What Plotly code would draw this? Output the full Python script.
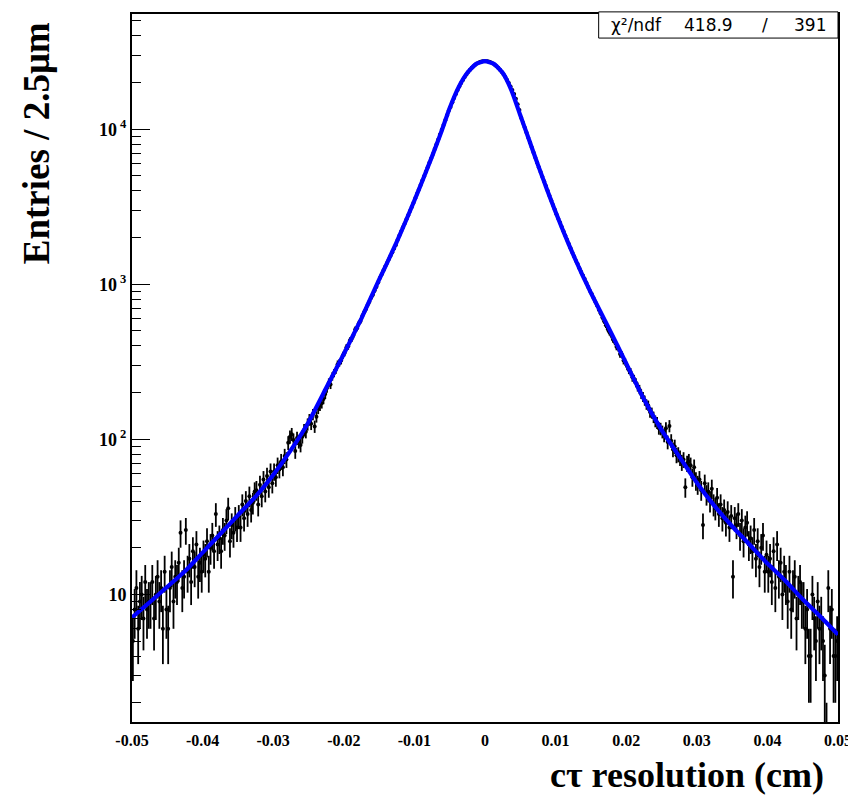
import numpy as np
import plotly.graph_objects as go

# histogram: 400 bins of 2.5 um between -0.05 and 0.05 cm
bin_lo = -0.05
bin_width = 0.00025

counts = [
    5, 8, 11, 6, 9, 10, 7, 12, 8, 9,
    9, 12, 7, 10, 13, 9, 11, 6, 14, 8,
    6, 11, 15, 9, 13, 12, 16, 25, 11, 13,
    26, 14, 17, 12, 19, 15, 21, 13, 16, 14,
    18, 17, 22, 14, 20, 24, 19, 33, 21, 23,
    19, 26, 24, 30, 36, 22, 28, 25, 31, 27,
    32, 27, 38, 31, 40, 33, 43, 35, 39, 46,
    47, 38, 51, 43, 55, 46, 58, 49, 62, 52,
    62, 57, 68, 64, 72, 66, 78, 74, 95, 104,
    108, 99, 84, 102, 97, 92, 104, 115, 112, 125,
    134, 126, 145, 121, 140, 158, 165, 171, 182, 196,
    214, 232, 226, 255, 268, 281, 305, 312, 322, 348,
    362, 392, 398, 435, 445, 470, 512, 520, 560, 580,
    625, 660, 690, 735, 770, 820, 855, 910, 965, 1030,
    1100, 1160, 1230, 1300, 1370, 1450, 1530, 1610, 1700, 1790,
    1938, 2060, 2190, 2330, 2470, 2630, 2790, 2970, 3150, 3350,
    3590, 3830, 4090, 4370, 4670, 4980, 5320, 5680, 6070, 6480,
    6920, 7440, 7990, 8590, 9230, 9910, 10650, 11440, 12300, 13210,
    13930, 14910, 15900, 16890, 17900, 18890, 19850, 20800, 21700, 22570,
    23420, 24170, 24870, 25500, 26050, 26520, 26900, 27190, 27390, 27480,
    27480, 27390, 27190, 26900, 26520, 26050, 25500, 24870, 24170, 23420,
    22570, 21700, 20800, 19850, 18890, 17900, 16890, 15700, 14500, 13300,
    11860, 11020, 10240, 9510, 8830, 8200, 7620, 7080, 6580, 6110,
    5690, 5300, 4940, 4610, 4300, 4010, 3740, 3480, 3250, 3030,
    2830, 2660, 2500, 2340, 2200, 2060, 1940, 1820, 1710, 1600,
    1510, 1420, 1350, 1270, 1200, 1140, 1080, 1020, 960, 906,
    865, 815, 770, 730, 685, 650, 610, 578, 545, 515,
    490, 470, 440, 425, 395, 388, 355, 352, 322, 315,
    296, 280, 272, 251, 245, 232, 218, 210, 196, 188,
    178, 168, 165, 150, 148, 139, 131, 128, 118, 117,
    112, 106, 118, 96, 122, 98, 86, 90, 79, 80,
    76, 71, 74, 49, 70, 72, 68, 57, 66, 54,
    51, 55, 47, 28, 52, 44, 46, 40, 48, 38,
    36, 42, 33, 38, 31, 35, 29, 34, 27, 32,
    13, 31, 28, 33, 24, 30, 22, 27, 29, 21,
    23, 19, 26, 17, 22, 15, 20, 24, 14, 18,
    14, 17, 12, 19, 11, 21, 13, 16, 10, 14,
    12, 9, 14, 8, 11, 13, 7, 10, 12, 9,
    9, 6, 8, 4, 4, 10, 7, 5, 9, 6,
    7, 5, 3, 1, 11, 6, 8, 4, 4, 5,
]

# fit function, sampled along x (denser around the core)
fit_x = [-0.05, -0.0475, -0.045, -0.0425, -0.04, -0.0375, -0.035, -0.0325, -0.03, -0.0275,
         -0.025, -0.0225, -0.02, -0.0175, -0.015, -0.01375, -0.0125, -0.01125, -0.01, -0.00875,
         -0.0075, -0.00625, -0.005, -0.00375, -0.0025, -0.00125, 0.0, 0.00125, 0.0025, 0.00375,
         0.005, 0.00625, 0.0075, 0.00875, 0.01, 0.01125, 0.0125, 0.01375, 0.015, 0.0175,
         0.02, 0.0225, 0.025, 0.0275, 0.03, 0.0325, 0.035, 0.0375, 0.04, 0.0425,
         0.045, 0.0475, 0.05]
fit_y = [7.1, 8.9, 11.2, 14.1, 18.6, 24.5, 32.4, 42.7, 58.9, 85.1,
         129, 214, 355, 603, 1070, 1410, 1880, 2540, 3470, 4790,
         6680, 9440, 13700, 18600, 23100, 26400, 27500, 26400, 23100, 17800,
         12300, 8510, 5890, 4120, 2920, 2110, 1550, 1160, 881, 525,
         309, 182, 115, 77.6, 52.5, 37.2, 27.5, 20.9, 15.8, 12.3,
         9.3, 7.2, 5.5]

chi2_text = "418.9"
ndf_text = "391"

x_ticks = [-0.05, -0.04, -0.03, -0.02, -0.01, 0, 0.01, 0.02, 0.03, 0.04, 0.05]
x_ticktext = ["-0.05", "-0.04", "-0.03", "-0.02", "-0.01", "0",
              "0.01", "0.02", "0.03", "0.04", "0.05"]
y_ticks = [10, 100, 1000, 10000]
y_ticktext = ["10", "10<sup> 2</sup>", "10<sup> 3</sup>", "10<sup> 4</sup>"]

centers = bin_lo + bin_width * (np.arange(len(counts)) + 0.5)
counts = np.array(counts, dtype=float)

fig = go.Figure()
fig.add_trace(go.Scatter(
    x=centers, y=counts, mode="markers",
    marker=dict(color="black", size=4),
    error_y=dict(type="data", array=np.sqrt(counts), color="black",
                 thickness=1.8, width=0),
    showlegend=False,
))
fig.add_trace(go.Scatter(
    x=fit_x, y=fit_y, mode="lines",
    line=dict(color="#0000ff", width=4.2, shape="spline", smoothing=0.5),
    showlegend=False,
))

serif = "Liberation Serif"
fig.update_xaxes(
    range=[-0.05, 0.05], showline=True, mirror=True, linecolor="black", linewidth=2,
    showgrid=False, zeroline=False, ticks="",
    tickvals=x_ticks, ticktext=["<b>%s</b>" % t for t in x_ticktext],
    tickfont=dict(family=serif, size=16, color="black"), ticklabelstandoff=3,
    ticklabeloverflow="allow",
)
fig.update_yaxes(
    type="log", range=[0.177, 4.743], showline=True, mirror=True, linecolor="black",
    linewidth=2, showgrid=False, zeroline=False,
    ticks="inside", ticklen=18, tickwidth=1, tickcolor="black",
    tickvals=y_ticks, ticktext=["<b>%s</b>" % t for t in y_ticktext],
    tickfont=dict(family=serif, size=18, color="black"), ticklabelstandoff=0,
    minor=dict(ticks="inside", ticklen=9, tickwidth=1, tickcolor="black",
               tickvals=[m * d for d in [1, 10, 100, 1000, 10000] for m in range(2, 10)]),
)

fig.add_annotation(
    text="<b>Entries / 2.5\u03bcm</b>", xref="paper", yref="paper",
    x=-0.135, y=0.817, xanchor="center", yanchor="middle", textangle=-90,
    showarrow=False, font=dict(family=serif, size=37, color="black"),
)
fig.add_annotation(
    text="<b>c\u03c4 resolution (cm)</b>", xref="paper", yref="paper",
    x=0.983, y=-0.075, xanchor="right", yanchor="middle", showarrow=False,
    font=dict(family=serif, size=36, color="black"),
)

# fit statistics box
fig.add_shape(type="rect", xref="paper", yref="paper", x0=0.661, x1=1.0, y0=0.966, y1=1.003,
              line=dict(color="black", width=1), fillcolor="white")
sans = dict(family="DejaVu Sans", size=17, color="black")
fig.add_annotation(text="\u03c7\u00b2/ndf", xref="paper", yref="paper", x=0.676, y=0.985,
                   xanchor="left", yanchor="middle", showarrow=False, font=sans)
fig.add_annotation(text=chi2_text, xref="paper", yref="paper", x=0.817, y=0.985,
                   xanchor="center", yanchor="middle", showarrow=False, font=sans)
fig.add_annotation(text="/", xref="paper", yref="paper", x=0.896, y=0.985,
                   xanchor="center", yanchor="middle", showarrow=False, font=sans)
fig.add_annotation(text=ndf_text, xref="paper", yref="paper", x=0.986, y=0.985,
                   xanchor="right", yanchor="middle", showarrow=False, font=sans)

# page body adds a few px offset, so the figure is slightly smaller than the window
fig.update_layout(
    width=848, height=788,
    margin=dict(l=124, r=13, t=4, b=74),
    plot_bgcolor="white", paper_bgcolor="white",
)

fig.write_html("out.html")
